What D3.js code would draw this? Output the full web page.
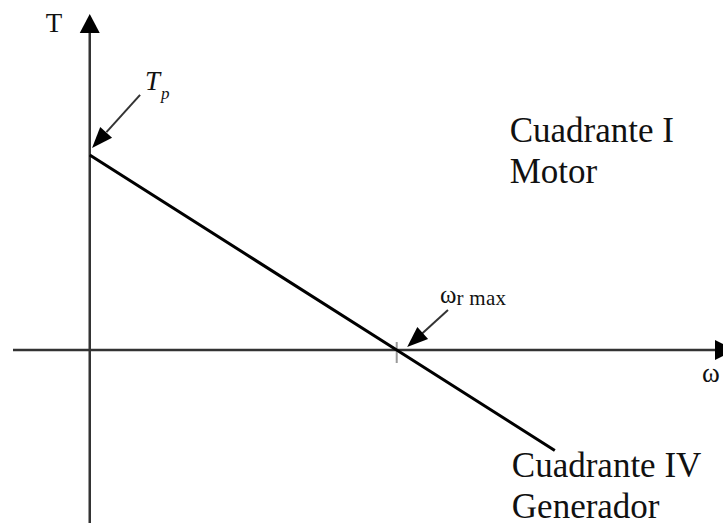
<!DOCTYPE html>
<html>
<head>
<meta charset="utf-8">
<script src="https://cdn.jsdelivr.net/npm/d3@7"></script>
<style>
html,body{margin:0;padding:0;background:#fff;}
svg{display:block;}
text{font-family:"Liberation Serif","Times New Roman",serif;fill:#111;}
</style>
</head>
<body>
<svg id="c" width="723" height="523"></svg>
<script>
// Data (normalised: Tp = 1, omega_r max = 1)
const omegaPts = [0, 1, 1.515];
const torquePts = [1, 0, -0.515];
const xDomain = [-0.25, 2.102];
const yDomain = [-0.887, 1.723];
const quadrantLabels = [
  {lines: ["Cuadrante I", "Motor"], w: 1.368, t: 1.067},
  {lines: ["Cuadrante IV", "Generador"], w: 1.375, t: -0.651}
];

const svg = d3.select("#c");
const x = d3.scaleLinear().domain(xDomain).range([13, 735]);
const y = d3.scaleLinear().domain(yDomain).range([523, 14]);

const axisColor = "#333";

function arrowHead(tipX, tipY, dx, dy, len, half, color) {
  const n = Math.hypot(dx, dy);
  const ux = dx / n, uy = dy / n;
  const bx = tipX - ux * len, by = tipY - uy * len;
  const px = -uy, py = ux;
  svg.append("path")
    .attr("d", `M${tipX},${tipY}L${bx + px * half},${by + py * half}L${bx - px * half},${by - py * half}Z`)
    .attr("fill", color);
}

// x axis
svg.append("line")
  .attr("x1", x(xDomain[0])).attr("x2", x(xDomain[1]) - 10)
  .attr("y1", y(0)).attr("y2", y(0))
  .attr("stroke", axisColor).attr("stroke-width", 2.5);
arrowHead(x(xDomain[1]), y(0), 1, 0, 20, 10, "#000");

// y axis
svg.append("line")
  .attr("x1", x(0)).attr("x2", x(0))
  .attr("y1", y(yDomain[0])).attr("y2", y(yDomain[1]) + 10)
  .attr("stroke", axisColor).attr("stroke-width", 2.5);
arrowHead(x(0), y(yDomain[1]), 0, -1, 19, 10, "#000");

// tick at omega_r max
svg.append("line")
  .attr("x1", x(1)).attr("x2", x(1))
  .attr("y1", y(0) - 8).attr("y2", y(0) + 13)
  .attr("stroke", "#999").attr("stroke-width", 2);

// torque-speed line
const line = d3.line().x(d => x(d[0])).y(d => y(d[1]));
svg.append("path")
  .datum(omegaPts.map((o, i) => [o, torquePts[i]]))
  .attr("d", line)
  .attr("fill", "none").attr("stroke", "#000").attr("stroke-width", 3);

// Axis labels
svg.append("text").attr("x", x(0) - 44).attr("y", 32).attr("font-size", 27).text("T");
svg.append("text").attr("x", 702).attr("y", y(0) + 32).attr("font-size", 27).text("ω");

// Tp annotation
const tpFrom = [x(0.164), y(1.308)];
const tpTo = [x(0.0075), y(1.036)];
svg.append("line")
  .attr("x1", tpFrom[0]).attr("y1", tpFrom[1])
  .attr("x2", tpTo[0] + (tpFrom[0] - tpTo[0]) * 0.3).attr("y2", tpTo[1] + (tpFrom[1] - tpTo[1]) * 0.3)
  .attr("stroke", "#333").attr("stroke-width", 2);
arrowHead(tpTo[0], tpTo[1], tpTo[0] - tpFrom[0], tpTo[1] - tpFrom[1], 21, 8, "#000");
const tp = svg.append("text").attr("x", 145).attr("y", 90).attr("font-size", 27).attr("font-style", "italic");
tp.append("tspan").text("T");
tp.append("tspan").attr("font-size", 17).attr("dy", 9).attr("dx", 1).text("p");

// omega_r max annotation
const wFrom = [x(1.167), y(0.205)];
const wTo = [x(1.034), y(0.015)];
svg.append("line")
  .attr("x1", wFrom[0]).attr("y1", wFrom[1])
  .attr("x2", wTo[0] + (wFrom[0] - wTo[0]) * 0.3).attr("y2", wTo[1] + (wFrom[1] - wTo[1]) * 0.3)
  .attr("stroke", "#333").attr("stroke-width", 2);
arrowHead(wTo[0], wTo[1], wTo[0] - wFrom[0], wTo[1] - wFrom[1], 21, 8, "#000");
const wr = svg.append("text").attr("x", 440).attr("y", 303).attr("font-size", 25);
wr.append("tspan").text("ω");
wr.append("tspan").attr("font-size", 21).attr("dy", 2).attr("letter-spacing", 0.3).text("r max");

// Quadrant labels
quadrantLabels.forEach(q => {
  const t = svg.append("text").attr("x", x(q.w)).attr("y", y(q.t)).attr("font-size", 35);
  q.lines.forEach((l, i) => {
    t.append("tspan").attr("x", x(q.w)).attr("dy", i === 0 ? 0 : 41).text(l);
  });
});
</script>
</body>
</html>
